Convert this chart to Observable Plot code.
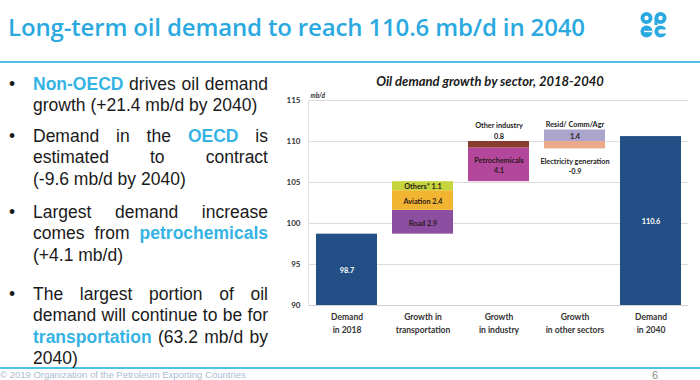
<!DOCTYPE html>
<html><head><meta charset="utf-8">
<script src="https://cdn.jsdelivr.net/npm/d3@7"></script>
<script src="https://cdn.jsdelivr.net/npm/@observablehq/plot@0.6"></script>
<style>
html,body{margin:0;padding:0;background:#fff;width:700px;height:380px;overflow:hidden;position:relative}
#title{position:absolute;left:8px;top:10px;font-family:"Open Sans";font-weight:600;font-size:24px;color:#2aa9e0;white-space:nowrap;letter-spacing:-0.15px}
.rule{position:absolute;left:0;width:700px;height:2px;background:#4fc0e8}
.bullet{position:absolute;left:33px;width:235px;font-family:"Liberation Sans",Arial,sans-serif;font-size:17.5px;line-height:21.3px;color:#1a1a1a}
.bullet .dot{position:absolute;left:-24px;top:0}
.bullet .j{text-align:justify;text-align-last:justify}
.bullet .k{color:#35b3e4;font-weight:bold}
#ctitle{position:absolute;left:280px;width:420px;top:73px;text-align:center;font-family:Lato;font-weight:bold;font-style:italic;font-size:13px;color:#1a1a1a}
#chart{position:absolute;left:280px;top:86px}
#footer{position:absolute;left:0;top:369px;font-family:"Liberation Sans",Arial;font-size:9.5px;color:#a9bcd0;white-space:nowrap}
#page{position:absolute;left:652px;top:369.5px;font-family:"Liberation Sans",Arial;font-size:11px;line-height:10px;color:#8a8a8a}
#logo{position:absolute;left:639px;top:11px}
</style></head>
<body>
<div id="title">Long-term oil demand to reach 110.6 mb/d in 2040</div>
<svg id="logo" width="30" height="28" viewBox="0 0 30 28">
  <g fill="#2aa9e0">
    <circle cx="7.5" cy="7" r="6"/>
    <circle cx="21.5" cy="7" r="6"/><rect x="15.5" y="7" width="3" height="7"/>
    <circle cx="7.5" cy="20.5" r="6"/>
    <circle cx="21.5" cy="20.5" r="6"/>
  </g>
  <g fill="#fff">
    <circle cx="7.5" cy="7" r="2.2"/>
    <circle cx="21.5" cy="7" r="2.2"/>
    <rect x="5" y="19.8" width="8" height="1.4"/>
    <rect x="22" y="18.5" width="6" height="4"/>
    <circle cx="21.5" cy="20.5" r="2.2"/>
  </g>
</svg>
<div class="rule" style="top:61px"></div>
<div class="rule" style="top:367px"></div>

<div class="bullet" style="top:74px"><span class="dot">•</span>
  <div class="j"><span class="k">Non-OECD</span> drives oil demand</div>
  <div>growth (+21.4 mb/d by 2040)</div>
</div>
<div class="bullet" style="top:126px"><span class="dot">•</span>
  <div class="j">Demand in the <span class="k">OECD</span> is</div>
  <div class="j">estimated to contract</div>
  <div>(-9.6 mb/d by 2040)</div>
</div>
<div class="bullet" style="top:202px"><span class="dot">•</span>
  <div class="j">Largest demand increase</div>
  <div class="j">comes from <span class="k">petrochemicals</span></div>
  <div>(+4.1 mb/d)</div>
</div>
<div class="bullet" style="top:284px"><span class="dot">•</span>
  <div class="j">The largest portion of oil</div>
  <div class="j">demand will continue to be for</div>
  <div class="j"><span class="k">transportation</span> (63.2 mb/d by</div>
  <div>2040)</div>
</div>

<div id="ctitle">Oil demand growth by sector, 2018-2040</div>
<div id="chart"></div>
<div id="footer">© 2019 Organization of the Petroleum Exporting Countries</div>
<div id="page">6</div>

<script>
const categories = ["Demand\nin 2018", "Growth in\ntransportation", "Growth\nin industry", "Growth\nin other sectors", "Demand\nin 2040"];
const yDomain = [90, 115];
const yTicks = [90, 95, 100, 105, 110, 115];

const segmentCategory = [categories[0], categories[1], categories[1], categories[1], categories[2], categories[2], categories[3], categories[3], categories[4]];
const segmentKind = ["total", "step", "step", "step", "step", "step", "step", "step", "total"];
const segmentValues = [98.7, 2.9, 2.4, 1.1, 4.1, 0.8, -0.9, 1.4, 110.6];
const segmentColors = ["#234f86", "#8c4ea0", "#f2b532", "#c6d53e", "#b3479c", "#8a3b30", "#eba98b", "#aba4cd", "#234f86"];
const insideLabels = ["98.7", "Road 2.9", "Aviation 2.4", "Others* 1.1", "Petrochemicals\n4.1", "", "", "1.4", "110.6"];
const outsideLabels = ["", "", "", "", "", "Other industry\n0.8", "Electricity generation\n-0.9", "Resid/ Comm/Agr", ""];
const outsidePlacement = ["", "", "", "", "", "above", "below", "above", ""];

const segs = [];
let running = 0;
const bases = new Map();
segmentValues.forEach((v, i) => {
  const c = segmentCategory[i];
  let y1, y2;
  if (segmentKind[i] === "total") {
    y1 = yDomain[0]; y2 = v; running = v;
  } else {
    if (!bases.has(c)) bases.set(c, {pos: running, neg: running});
    const b = bases.get(c);
    if (v >= 0) { y1 = b.pos; y2 = b.pos + v; b.pos = y2; }
    else { y1 = b.neg; y2 = b.neg + v; b.neg = y2; }
    running += v;
  }
  segs.push({c, y1, y2, kind: segmentKind[i], color: segmentColors[i],
    inside: insideLabels[i], outside: outsideLabels[i], place: outsidePlacement[i]});
});

const chart = Plot.plot({
  width: 415, height: 249,
  marginLeft: 28, marginRight: 7, marginTop: 14, marginBottom: 30,
  x: {domain: categories, paddingInner: 0.2, paddingOuter: 0.1, label: null},
  y: {domain: yDomain, label: null},
  color: {type: "identity"},
  style: {fontFamily: "Lato", fontSize: "7.3px", color: "#333", background: "transparent"},
  marks: [
    Plot.gridY(yTicks.slice(1), {stroke: "#dcdcdc", strokeOpacity: 1}),
    Plot.ruleY([yDomain[0]], {stroke: "#d0d0d0"}),
    Plot.frame({anchor: "left", stroke: "#e2e2e2"}),
    Plot.barY(segs, {x: "c", y1: "y1", y2: "y2", fill: "color"}),
    Plot.text(segs.filter(d => d.inside), {x: "c", y: d => (d.y1 + d.y2) / 2, text: "inside",
      fill: d => d.kind === "total" ? "#fff" : "#2a1a1a", fontWeight: "bold", lineHeight: 1.4}),
    Plot.text(segs.filter(d => d.place === "above"), {x: "c", y: d => Math.max(d.y1, d.y2), text: "outside",
      lineAnchor: "bottom", dy: -3, fill: "#222", fontWeight: "bold", lineHeight: 1.4}),
    Plot.text(segs.filter(d => d.place === "below"), {x: "c", y: d => Math.min(d.y1, d.y2), text: "outside",
      lineAnchor: "top", dy: 8, fill: "#222", fontWeight: "bold", lineHeight: 1.4}),
    Plot.text(["mb/d"], {frameAnchor: "top-left", dx: 2, dy: -7, fontStyle: "italic", fontWeight: "bold", fontSize: 6.5, fill: "#333"}),
    Plot.axisY({ticks: yTicks, tickSize: 0, tickPadding: 8, fontWeight: "bold", fill: "#333", fontSize: 8}),
    Plot.axisX({tickSize: 0, tickPadding: 6, lineHeight: 1.45, fontWeight: "bold", fill: "#333", fontSize: 8.5})
  ]
});
document.getElementById("chart").appendChild(chart);
</script>
</body></html>
